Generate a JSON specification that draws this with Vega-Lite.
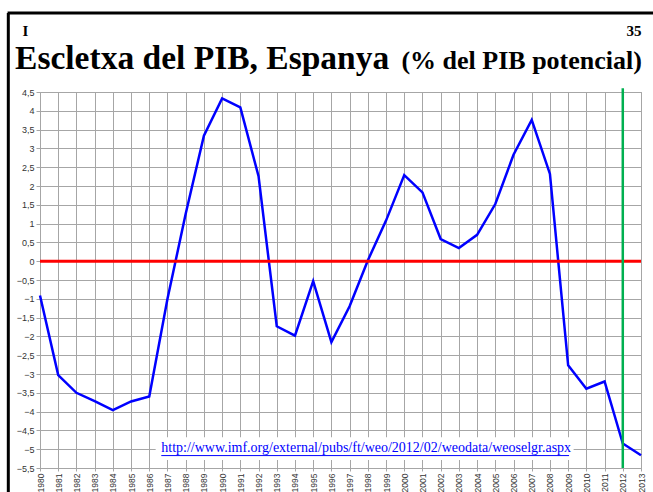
{
  "$schema": "https://vega.github.io/schema/vega-lite/v6.json",
  "autosize": {"type": "none"},
  "width": 601,
  "height": 376,
  "padding": {"left": 40, "top": 92, "right": 12, "bottom": 24},
  "background": "white",
  "config": {
    "view": {"stroke": "#a0a0a0", "strokeWidth": 1},
    "axis": {"labelFont": "Liberation Sans", "labelFontSize": 9, "labelColor": "#333333", "gridColor": "#a6a6a6", "gridWidth": 1, "gridOpacity": 1, "tickColor": "#a6a6a6", "domain": false, "title": null, "labelOverlap": false}
  },
  "datasets": {
    "gap": [
      {"year": 1980, "gap": -0.91},
      {"year": 1981, "gap": -3.03},
      {"year": 1982, "gap": -3.5},
      {"year": 1983, "gap": -3.72},
      {"year": 1984, "gap": -3.96},
      {"year": 1985, "gap": -3.73},
      {"year": 1986, "gap": -3.6},
      {"year": 1987, "gap": -1.0},
      {"year": 1988, "gap": 1.26},
      {"year": 1989, "gap": 3.34},
      {"year": 1990, "gap": 4.33},
      {"year": 1991, "gap": 4.09},
      {"year": 1992, "gap": 2.26},
      {"year": 1993, "gap": -1.73},
      {"year": 1994, "gap": -1.98},
      {"year": 1995, "gap": -0.53},
      {"year": 1996, "gap": -2.15},
      {"year": 1997, "gap": -1.2},
      {"year": 1998, "gap": 0.02},
      {"year": 1999, "gap": 1.08},
      {"year": 2000, "gap": 2.29},
      {"year": 2001, "gap": 1.83},
      {"year": 2002, "gap": 0.59},
      {"year": 2003, "gap": 0.35},
      {"year": 2004, "gap": 0.7},
      {"year": 2005, "gap": 1.52},
      {"year": 2006, "gap": 2.83},
      {"year": 2007, "gap": 3.76},
      {"year": 2008, "gap": 2.32},
      {"year": 2009, "gap": -2.77},
      {"year": 2010, "gap": -3.39},
      {"year": 2011, "gap": -3.2},
      {"year": 2012, "gap": -4.85},
      {"year": 2013, "gap": -5.16}
    ],
    "one": [{}],
    "url": [{"label": "http://www.imf.org/external/pubs/ft/weo/2012/02/weodata/weoselgr.aspx"}],
    "page": [{"label": "I"}],
    "slide": [{"label": "35"}],
    "title": [{"label": "Escletxa del PIB, Espanya"}],
    "unit": [{"label": "(% del PIB potencial)"}]
  },
  "layer": [
    {"data": {"name": "gap"},
     "mark": {"type": "line", "color": "#0000ff", "strokeWidth": 2.5, "strokeJoin": "miter"},
     "encoding": {
       "x": {"field": "year", "type": "quantitative", "scale": {"domain": [1980, 2013], "nice": false, "zero": false},
         "axis": {"values": [1980,1981,1982,1983,1984,1985,1986,1987,1988,1989,1990,1991,1992,1993,1994,1995,1996,1997,1998,1999,2000,2001,2002,2003,2004,2005,2006,2007,2008,2009,2010,2011,2012,2013], "tickCount": 100, "format": "d", "labelAngle": 270, "tickSize": 3, "labelPadding": 2, "labelFontSize": 8.5}},
       "y": {"field": "gap", "type": "quantitative", "scale": {"domain": [-5.5, 4.5], "nice": false, "zero": false},
         "axis": {"values": [-5.5,-5,-4.5,-4,-3.5,-3,-2.5,-2,-1.5,-1,-0.5,0,0.5,1,1.5,2,2.5,3,3.5,4,4.5], "tickCount": 100, "labelExpr": "replace(format(datum.value, '.1~f'), '.', ',')", "tickSize": 4, "labelPadding": 2}}
     }},
    {"data": {"name": "one"},
     "mark": {"type": "rule", "color": "#ff0000", "strokeWidth": 3},
     "encoding": {"y": {"datum": 0}}},
    {"data": {"name": "one"},
     "mark": {"type": "rect", "fill": "white", "clip": false},
     "encoding": {"x": {"datum": 1986.35}, "x2": {"datum": 2009.3}, "y": {"datum": -4.68}, "y2": {"datum": -5.29}}},
    {"data": {"name": "one"},
     "mark": {"type": "rule", "color": "#00b050", "strokeWidth": 2.5, "clip": false},
     "encoding": {"x": {"datum": 2012}, "y": {"datum": 4.6}, "y2": {"datum": -5.5}}},
    {"data": {"name": "url"},
     "mark": {"type": "text", "font": "Liberation Serif", "fontSize": 14, "color": "#0000ff", "align": "left", "baseline": "alphabetic"},
     "encoding": {"text": {"field": "label"}, "x": {"datum": 1986.66}, "y": {"datum": -5.08}}},
    {"data": {"name": "one"},
     "mark": {"type": "rule", "color": "#0000ff", "strokeWidth": 1},
     "encoding": {"x": {"datum": 1986.66}, "x2": {"datum": 2009.05}, "y": {"datum": -5.17}}},
    {"data": {"name": "page"},
     "mark": {"type": "text", "font": "Liberation Serif", "fontWeight": "bold", "fontSize": 15, "color": "black", "align": "left", "baseline": "alphabetic", "clip": false},
     "encoding": {"text": {"field": "label"}, "x": {"datum": 1979.04}, "y": {"datum": 5.98}}},
    {"data": {"name": "slide"},
     "mark": {"type": "text", "font": "Liberation Serif", "fontWeight": "bold", "fontSize": 15, "color": "black", "align": "right", "baseline": "alphabetic", "clip": false},
     "encoding": {"text": {"field": "label"}, "x": {"datum": 2013.03}, "y": {"datum": 5.98}}},
    {"data": {"name": "title"},
     "mark": {"type": "text", "font": "Liberation Serif", "fontWeight": "bold", "fontSize": 33.5, "color": "black", "align": "left", "baseline": "alphabetic", "clip": false},
     "encoding": {"text": {"field": "label"}, "x": {"datum": 1978.63}, "y": {"datum": 5.12}}},
    {"data": {"name": "unit"},
     "mark": {"type": "text", "font": "Liberation Serif", "fontWeight": "bold", "fontSize": 26, "color": "black", "align": "right", "baseline": "alphabetic", "clip": false},
     "encoding": {"text": {"field": "label"}, "x": {"datum": 2013.05}, "y": {"datum": 5.11}}},
    {"data": {"name": "one"},
     "mark": {"type": "rule", "color": "black", "strokeWidth": 3, "clip": false},
     "encoding": {"x": {"datum": 1978.26}, "y": {"datum": 6.6}, "y2": {"datum": -6.8}}},
    {"data": {"name": "one"},
     "mark": {"type": "rule", "color": "black", "strokeWidth": 3, "clip": false},
     "encoding": {"x": {"datum": 1978.22}, "x2": {"datum": 2014.0}, "y": {"datum": 6.6}}}
  ]
}
